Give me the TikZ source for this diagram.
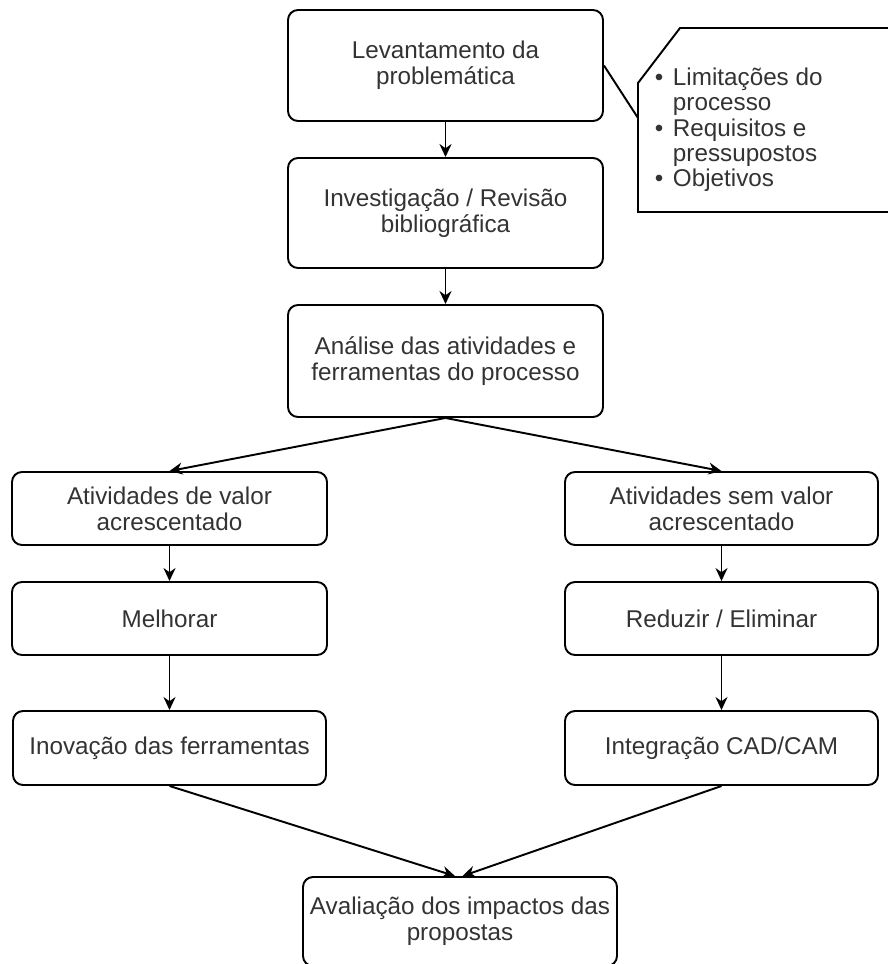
\documentclass[tikz,border=0pt]{standalone}
\usepackage{fontspec}
\setmainfont{Liberation Sans}
\usetikzlibrary{arrows.meta}
\definecolor{txtgray}{HTML}{333333}

\begin{document}
\begin{tikzpicture}[line width=1.1pt,
  proc/.style={draw,rounded corners=0.2cm,align=center,inner sep=0pt,minimum width=6.3cm,text=txtgray,font=\fontsize{13.8}{14.8}\selectfont},
  conn/.style={-{Stealth[length=0.26cm,width=0.24cm]}}]
\useasboundingbox (0,0) rectangle (17.76,-19.28);
\node[proc,minimum height=2.22cm] (b1) at (8.91,-1.31) {Levantamento da\\problemática};
\node[proc,minimum height=2.2cm] (b2) at (8.91,-4.26) {Investigação / Revisão\\bibliográfica};
\node[proc,minimum height=2.24cm] (b3) at (8.91,-7.22) {Análise das atividades e\\ferramentas do processo};
\node[proc,minimum height=1.46cm] (l4) at (3.39,-10.17) {Atividades de valor\\acrescentado};
\node[proc,minimum height=1.46cm,minimum width=6.26cm] (r4) at (14.43,-10.17) {Atividades sem valor\\acrescentado};
\node[proc,minimum height=1.46cm] (l5) at (3.39,-12.37) {Melhorar};
\node[proc,minimum height=1.46cm,minimum width=6.26cm] (r5) at (14.43,-12.37) {Reduzir / Eliminar};
\node[proc,minimum height=1.48cm,minimum width=6.26cm] (l6) at (3.39,-14.96) {Inovação das ferramentas};
\node[proc,minimum height=1.48cm,minimum width=6.26cm] (r6) at (14.43,-14.96) {Integração CAD/CAM};
\node[proc,minimum height=1.78cm,minimum width=6.28cm] (bot) at (9.2,-18.43) {Avaliação dos impactos das\\propostas};
% callout
\draw (12.76,-1.66) -- (13.6,-0.56) -- (18,-0.56) -- (18,-4.24) -- (12.76,-4.24) -- cycle;
\coordinate (tip) at (12.76,-2.36);
\draw (b1.east) -- (tip);
\node[anchor=base west,inner sep=0pt,text=txtgray,font=\fontsize{13.8}{14.4}\selectfont] (notes) at (13.08,-1.71)
  {\begin{tabular}[t]{@{}p{0.36cm}@{}l@{}}
   \textbullet & Limitações do\\
               & processo\\
   \textbullet & Requisitos e\\
               & pressupostos\\
   \textbullet & Objetivos
   \end{tabular}};
\draw[conn] (b1) -- (b2);
\draw[conn] (b2) -- (b3);
\draw[conn] (b3.south) -- (l4.north);
\draw[conn] (b3.south) -- (r4.north);
\draw[conn] (l4) -- (l5);
\draw[conn] (r4) -- (r5);
\draw[conn] (l5) -- (l6);
\draw[conn] (r5) -- (r6);
\draw[conn] (l6.south) -- ([xshift=-0.1cm]bot.north);
\draw[conn] (r6.south) -- ([xshift=0.05cm]bot.north);
\end{tikzpicture}
\end{document}
